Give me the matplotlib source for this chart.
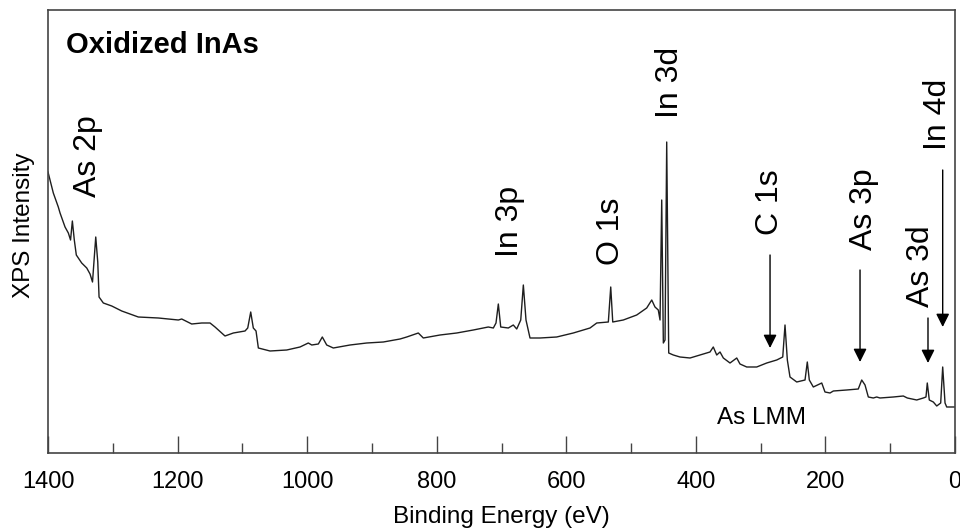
import matplotlib
matplotlib.use("Agg")
import matplotlib.pyplot as plt

plt.rcParams['font.family'] = ['Liberation Sans', 'DejaVu Sans']

# Binding energy (eV) and XPS intensity (arbitrary units)
energy = [1400, 1394.2, 1391.8, 1384.1, 1381.4, 1373.7, 1368.6, 1365.2, 1362.4, 1359.4,
          1356.3, 1348.0, 1340.2, 1335.1, 1331.3, 1326.3, 1323.2, 1321.2, 1314.6, 1301.6,
          1286.2, 1260.6, 1229.7, 1198.8, 1193.6, 1178.2, 1162.7, 1149.9, 1142.2, 1126.8,
          1113.9, 1095.9, 1091.7, 1087.1, 1083.1, 1078.9, 1075.3, 1057.3, 1031.5, 1011.0,
          998.2, 992.9, 982.7, 976.6, 969.8, 959.6, 933.8, 908.0, 882.4, 856.6,
          846.3, 828.4, 820.7, 794.9, 769.1, 743.5, 720.4, 712.6, 708.5, 704.9,
          701.2, 689.5, 681.8, 676.5, 670.3, 666.3, 662.2, 656.0, 640.6, 614.8,
          589.2, 563.4, 553.0, 535.1, 531.4, 528.3, 512.0, 491.3, 475.9, 468.1,
          463.1, 458.0, 455.3, 452.7, 450.2, 447.6, 445.0, 441.9, 434.8, 424.5,
          409.0, 393.6, 378.2, 373.1, 367.8, 362.7, 357.6, 347.3, 336.9, 331.9,
          321.5, 306.1, 290.6, 275.2, 265.9, 262.4, 258.8, 254.7, 244.3, 231.5,
          228.0, 224.9, 218.7, 205.7, 200.7, 192.9, 187.8, 167.2, 149.3, 144.0,
          138.9, 133.8, 126.1, 120.9, 115.8, 95.2, 79.8, 73.6, 59.1, 48.9,
          44.8, 42.8, 39.7, 33.5, 28.2, 22.1, 19.0, 15.4, 12.8, 2.6, 0]
intensity = [281, 266, 260, 246, 240, 226, 220, 213, 232, 213,
             198, 190, 185, 179, 171, 216, 191, 156, 150, 147,
             142, 136, 135, 133, 134, 129, 130, 130, 126, 117,
             120, 122, 125, 141, 125, 122, 105, 102, 103, 106,
             110, 108, 109, 116, 108, 105, 108, 110, 111, 114,
             116, 120, 115, 118, 120, 123, 126, 125, 130, 149,
             126, 125, 128, 124, 133, 168, 133, 115, 115, 116,
             120, 125, 130, 131, 166, 131, 133, 138, 145, 153,
             146, 143, 133, 253, 110, 113, 311, 100, 98, 96,
             95, 98, 101, 106, 98, 101, 95, 90, 95, 89,
             86, 86, 90, 93, 96, 128, 93, 76, 71, 73,
             91, 73, 66, 70, 61, 60, 62, 63, 64, 73,
             68, 56, 55, 56, 55, 56, 57, 55, 53, 55,
             56, 70, 53, 51, 47, 50, 86, 50, 46, 46, 46]

# Peak labels: text, energy position, bottom of text (intensity units)
peak_labels = ["As 2p", "In 3p", "O 1s", "In 3d", "C 1s", "As 3p", "As 3d", "In 4d"]
peak_label_x = [1338, 687, 531, 440, 285.6, 140, 52, 26]
peak_label_y = [256, 196, 188, 335, 218, 203, 146, 303]

# Arrows: energy, start intensity, tip intensity
arrow_x = [285.5, 146.6, 41.7, 19]
arrow_top = [198, 183, 135, 283]
arrow_tip = [105, 91, 90, 126]

xticks_major = [1400, 1200, 1000, 800, 600, 400, 200, 0]
xticks_minor = [1300, 1100, 900, 700, 500, 300, 100]

fig = plt.figure(figsize=(9.6, 5.3), dpi=100)
ax = fig.add_axes([0.05, 0.1453, 0.9448, 0.8358])

ax.plot(energy, intensity, color='#1e1e1e', lw=1.0)

ax.set_xlim(1400, 0)
ax.set_ylim(0, 443)
ax.set_xticks(xticks_major)
ax.set_xticks(xticks_minor, minor=True)
ax.set_xticklabels([str(t) for t in xticks_major])
ax.set_yticks([])
ax.tick_params(axis='x', which='major', direction='in', length=12, width=1,
               color='#444444', labelsize=17, pad=13)
ax.tick_params(axis='x', which='minor', direction='in', length=7, width=1,
               color='#444444')
for s in ax.spines.values():
    s.set_color('#444444')
    s.set_linewidth(1.2)

ax.set_xlabel("Binding Energy (eV)", fontsize=17.5, labelpad=9)
ax.set_ylabel("XPS Intensity", fontsize=17.5)
ax.yaxis.set_label_coords(-0.014, 0.515)

for t, x, y in zip(peak_labels, peak_label_x, peak_label_y):
    ax.text(x, y, t, rotation=90, ha='center', va='bottom', fontsize=23)

for x, y0, y1 in zip(arrow_x, arrow_top, arrow_tip):
    ax.annotate("", xy=(x, y1), xytext=(x, y0),
                arrowprops=dict(arrowstyle='-|>', color='black', lw=1.0,
                                mutation_scale=20, shrinkA=0, shrinkB=0))

ax.text(299, 35, "As LMM", ha='center', va='center', fontsize=17.5)
ax.text(0.02, 0.921, "Oxidized InAs", transform=ax.transAxes, ha='left',
        va='center', fontsize=21, fontweight='bold')

fig.savefig("out.png", dpi=100)
